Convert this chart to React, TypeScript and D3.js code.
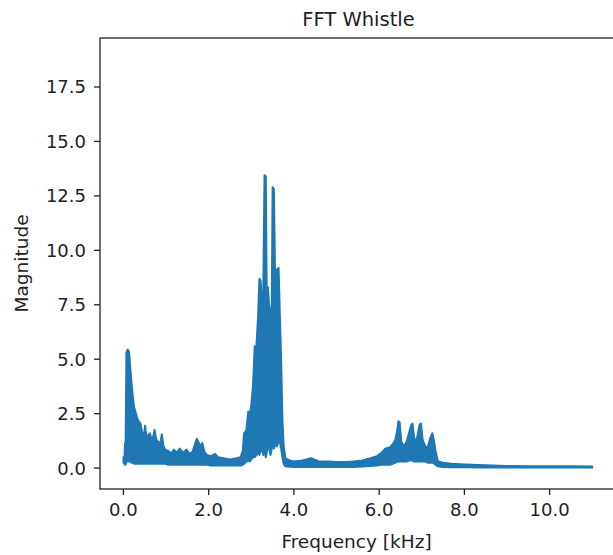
import React from "react";
import * as d3 from "d3";

const freqKHz = [
  0.0, 0.02, 0.035, 0.05, 0.07, 0.1, 0.13, 0.16, 0.19, 0.22, 0.25, 0.28, 0.32, 0.36, 0.4, 0.44, 0.48, 0.51, 0.54,
  0.58, 0.62, 0.66, 0.7, 0.73, 0.77, 0.82, 0.86, 0.9, 0.94, 0.98, 1.05, 1.12, 1.18, 1.25, 1.32, 1.4, 1.48, 1.55,
  1.62, 1.68, 1.72, 1.76, 1.8, 1.85, 1.9, 1.96, 2.05, 2.15, 2.22, 2.35, 2.5, 2.65, 2.75, 2.8, 2.83, 2.88, 2.93,
  2.96, 3.0, 3.04, 3.08, 3.12, 3.16, 3.19, 3.22, 3.25, 3.28, 3.31, 3.34, 3.36, 3.39, 3.42, 3.45, 3.48, 3.5, 3.53,
  3.56, 3.6, 3.64, 3.67, 3.7, 3.73, 3.76, 3.8, 3.9, 4.0, 4.2, 4.4, 4.6, 4.8, 5.0, 5.2, 5.4, 5.6, 5.8, 5.95, 6.05,
  6.15, 6.25, 6.32, 6.38, 6.42, 6.45, 6.48, 6.52, 6.58, 6.64, 6.7, 6.75, 6.78, 6.82, 6.86, 6.9, 6.95, 6.98, 7.02,
  7.08, 7.14, 7.2, 7.25, 7.29, 7.33, 7.38, 7.5, 7.7, 8.0, 8.5, 9.0, 9.5, 10.0, 10.5, 11.0,
];
const magLow = [
  0.25, 0.2, 0.15, 0.15, 0.3, 0.3, 0.3, 0.3, 0.25, 0.25, 0.2, 0.2, 0.2, 0.2, 0.2, 0.2, 0.2, 0.2, 0.2,
  0.2, 0.2, 0.2, 0.2, 0.2, 0.2, 0.2, 0.2, 0.2, 0.2, 0.2, 0.15, 0.15, 0.15, 0.15, 0.15, 0.15, 0.15, 0.15,
  0.15, 0.15, 0.15, 0.15, 0.15, 0.15, 0.15, 0.15, 0.12, 0.12, 0.12, 0.12, 0.12, 0.12, 0.12, 0.15, 0.2, 0.3, 0.35,
  0.3, 0.4, 0.5, 0.5, 0.6, 0.7, 0.6, 0.8, 0.9, 0.6, 0.8, 0.5, 0.7, 1.0, 0.9, 0.6, 0.9, 1.0, 0.9,
  1.1, 1.0, 1.2, 1.2, 0.9, 0.5, 0.2, 0.08, 0.06, 0.05, 0.05, 0.05, 0.05, 0.05, 0.05, 0.05, 0.05, 0.07, 0.1, 0.12, 0.15,
  0.15, 0.15, 0.2, 0.25, 0.3, 0.3, 0.3, 0.3, 0.3, 0.3, 0.35, 0.35, 0.35, 0.3, 0.3, 0.3, 0.3, 0.3, 0.3,
  0.3, 0.25, 0.25, 0.25, 0.2, 0.15, 0.08, 0.05, 0.04, 0.04, 0.03, 0.03, 0.03, 0.03, 0.03, 0.03,
];
const magHigh = [
  0.5, 0.25, 1.15, 0.9, 5.3, 5.45, 5.35, 4.6, 3.9, 3.3, 2.8, 2.6, 2.3, 2.15, 2.05, 1.6, 1.5, 1.95, 1.4,
  1.5, 1.6, 1.3, 1.45, 1.75, 1.3, 1.2, 1.1, 1.55, 1.0, 0.85, 0.8, 0.65, 0.85, 0.7, 0.9, 0.7, 0.85, 0.65,
  0.75, 1.1, 1.35, 1.2, 1.0, 1.15, 0.75, 0.6, 0.55, 0.65, 0.5, 0.45, 0.4, 0.45, 0.5, 0.8, 1.6, 1.7, 2.6,
  2.4, 2.9, 3.8, 5.6, 5.6, 7.0, 8.7, 8.6, 7.5, 8.0, 13.45, 13.4, 8.3, 8.3, 7.4, 7.0, 7.5, 12.9, 12.8,
  8.5, 9.1, 9.2, 7.0, 5.0, 2.2, 1.0, 0.45, 0.35, 0.3, 0.35, 0.45, 0.3, 0.3, 0.28, 0.28, 0.3, 0.35, 0.45, 0.55, 0.7,
  0.9, 0.95, 1.1, 1.3, 1.7, 2.15, 2.1, 1.2, 1.0, 1.2, 1.6, 1.95, 2.05, 1.4, 1.15, 1.5, 2.0, 2.05, 1.3,
  1.0, 0.95, 1.4, 1.6, 1.2, 0.7, 0.3, 0.25, 0.2, 0.17, 0.13, 0.1, 0.09, 0.08, 0.08, 0.07,
];
const xTicks = [0, 2, 4, 6, 8, 10];
const yTicks = [0, 2.5, 5, 7.5, 10, 12.5, 15, 17.5];

const W = 613;
const H = 555;
const FONT = "'DejaVu Sans', sans-serif";
const COLOR = "#1f77b4";

export default function App() {
  const left = 100, right = 617, top = 38, bottom = 489;
  const x = d3.scaleLinear().domain([-0.55, 11.58]).range([left, right]);
  const y = d3.scaleLinear().domain([-0.96, 19.75]).range([bottom, top]);
  const idx = freqKHz.map((_, i) => i);
  const area = d3
    .area<number>()
    .x((i) => x(freqKHz[i]))
    .y0((i) => y(magLow[i]))
    .y1((i) => y(magHigh[i]));
  return (
    <svg width={W} height={H} style={{ position: "absolute", left: 0, top: 0, background: "#fff" }} fontFamily={FONT}>
      <rect x={0} y={0} width={W} height={H} fill="#fff" />
      <text x={(left + right) / 2} y={26} textAnchor="middle" fontSize={19.5} fill="#222">
        FFT Whistle
      </text>
      <path d={area(idx) || ""} fill={COLOR} stroke={COLOR} strokeWidth={2} strokeLinejoin="round" />
      <rect x={left} y={top} width={right - left} height={bottom - top} fill="none" stroke="#222" strokeWidth={1.3} />
      {xTicks.map((t) => (
        <g key={"x" + t}>
          <line x1={x(t)} x2={x(t)} y1={bottom} y2={bottom + 6} stroke="#222" strokeWidth={1.3} />
          <text x={x(t)} y={bottom + 27} textAnchor="middle" fontSize={18} fill="#222">
            {t.toFixed(1)}
          </text>
        </g>
      ))}
      {yTicks.map((t) => (
        <g key={"y" + t}>
          <line x1={left - 6} x2={left} y1={y(t)} y2={y(t)} stroke="#222" strokeWidth={1.3} />
          <text x={left - 14} y={y(t) + 6.5} textAnchor="end" fontSize={18} fill="#222">
            {t.toFixed(1)}
          </text>
        </g>
      ))}
      <text x={(left + right) / 2 - 2} y={548} textAnchor="middle" fontSize={18.5} fill="#222">
        Frequency [kHz]
      </text>
      <text
        transform={`translate(28,${(top + bottom) / 2}) rotate(-90)`}
        textAnchor="middle"
        fontSize={18.5}
        fill="#222"
      >
        Magnitude
      </text>
    </svg>
  );
}
